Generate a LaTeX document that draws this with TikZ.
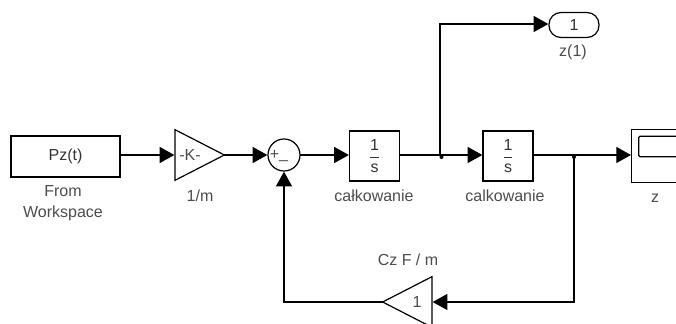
\documentclass[tikz,border=0pt]{standalone}
\usepackage{amsmath}
\usepackage{fontspec}
\setmainfont{Liberation Sans}
\usetikzlibrary{positioning, shapes.geometric, arrows.meta}

\begin{document}
\begin{tikzpicture}[
	x=0.75pt, y=-0.75pt,
	font=\fontsize{12}{15.75}\selectfont,
	blk/.style={draw, line width=0.9pt, inner sep=0pt, outer sep=0pt, text=black!80},
	gainblk/.style={blk, isosceles triangle, isosceles triangle stretches, minimum width=38pt, minimum height=37pt},
	lbl/.style={text=black!70, inner sep=0pt, align=center},
	arrow/.style={-{Triangle[length=11pt, width=12pt]}, line width=0.9pt, shorten >=0.5pt},
	dot/.style={circle, fill=black, inner sep=0pt, minimum size=3pt}
	]
	\clip (0,0) rectangle (676,324);
	
	% Forward path
	\node[blk, minimum width=81.75pt, minimum height=30.75pt] (pz) at (65.5,156.5) {Pz(t)};
	\node[gainblk, anchor=lower side] (gain_k) at (175,155) {};
	\node[lbl] (gain_k_txt) at (190,155) {-K-};
	\node[blk, circle, minimum size=24pt] (sum) at (284,155) {};
	\node[lbl] (sum_plus) at (274.5,154.5) {+};
	\node[lbl] (sum_minus) at (283.5,160) {\_};
	\node[blk, minimum size=37.5pt] (int_a) at (374.5,156) {$\displaystyle\frac{\mbox{1}}{\mbox{s}}$};
	\node[blk, minimum size=37.5pt] (int_b) at (508,156) {$\displaystyle\frac{\mbox{1}}{\mbox{s}}$};
	\node[blk, minimum width=38pt, minimum height=40pt] (scope) at (657,156) {};
	\node[blk, rounded corners=1pt, minimum width=38pt, minimum height=15.5pt] (screen) at (664,146.5) {};
	
	% Output and feedback
	\node[blk, rounded corners=9pt, minimum width=37.5pt, minimum height=18.75pt] (out) at (574,25) {1};
	\node[gainblk, shape border rotate=180, anchor=lower side] (gain_c) at (432,302) {};
	\node[lbl] (gain_c_txt) at (417,302) {1};
	
	% Labels
	\node[lbl] (pz_lbl) at (63,203) {From\\Workspace};
	\node[lbl] (gain_k_lbl) at (200,196) {1/m};
	\node[lbl] (int_a_lbl) at (374,196) {całkowanie};
	\node[lbl] (int_b_lbl) at (505,196) {calkowanie};
	\node[lbl] (scope_lbl) at (655,198) {z};
	\node[lbl] (out_lbl) at (573,52) {z(1)};
	\node[lbl] (gain_c_lbl) at (408,260) {Cz F / m};
	
	% Branch points
	\node[dot] (split_a) at (441.5,157) {};
	\node[dot] (split_b) at (574,157) {};
	\coordinate (corner_a) at (440,24);
	\coordinate (corner_b) at (574,302);
	\coordinate (corner_c) at (284,302);
	
	% Arrows
	\draw[arrow] (pz.east |- gain_k.lower side) -- (gain_k.lower side);
	\draw[arrow] (gain_k.apex) -- (sum.west);
	\draw[arrow] (sum.east) -- (sum.east -| int_a.west);
	\draw[arrow] (int_a.east |- sum.east) -- (sum.east -| int_b.west);
	\draw[arrow] (int_b.east |- sum.east) -- (sum.east -| scope.west);
	\draw[arrow] (corner_a |- sum.east) -- (corner_a) -- (out.west |- corner_a);
	\draw[arrow] (corner_b |- sum.east) -- (corner_b) -- (gain_c.lower side);
	\draw[arrow] (gain_c.apex) -- (corner_c) -- (sum.south);
	
\end{tikzpicture}
\end{document}
